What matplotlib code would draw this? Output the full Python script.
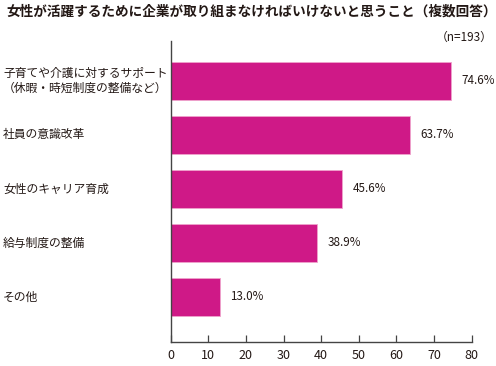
import matplotlib
matplotlib.use("Agg")
import matplotlib.pyplot as plt

plt.rcParams['font.family'] = ['Noto Sans CJK JP', 'DejaVu Sans']

title = "女性が活躍するために企業が取り組まなければいけないと思うこと（複数回答）"
categories = ["子育てや介護に対するサポート\n（休暇・時短制度の整備など）",
              "社員の意識改革",
              "女性のキャリア育成",
              "給与制度の整備",
              "その他"]
values = [74.6, 63.7, 45.6, 38.9, 13.0]
value_labels = ["74.6%", "63.7%", "45.6%", "38.9%", "13.0%"]
xticks = [0, 10, 20, 30, 40, 50, 60, 70, 80]
note = "（n=193）"

text_color = '#231815'
bar_color = '#CF1987'

fig = plt.figure(figsize=(4.96, 3.66), dpi=100)
ax = fig.add_axes([0.344, 0.0664, 0.607, 0.8216])

ypos = list(range(len(categories)))
ax.barh(ypos, values, height=0.70, color=bar_color, edgecolor='#EFA3CC', linewidth=0.6)

ax.set_xlim(0, 80)
ax.set_ylim(4.83, -0.74)
ax.set_xticks(xticks)
ax.set_xticklabels([str(t) for t in xticks], fontsize=9, color=text_color)
ax.set_yticks([])
ax.tick_params(axis='x', direction='in', length=5, width=0.9, color='#444444', pad=5)

for s in ['top', 'right']:
    ax.spines[s].set_visible(False)
for s in ['left', 'bottom']:
    ax.spines[s].set_color('#444444')
    ax.spines[s].set_linewidth(1.0)

for y, v, lab in zip(ypos, values, value_labels):
    ax.annotate(lab, xy=(v, y), xytext=(7.5, 0), textcoords='offset points',
                va='center', ha='left', fontsize=8.4, color=text_color)

for y, cat in zip(ypos, categories):
    yd = ax.transData.transform((0, y))[1]
    yf = fig.transFigure.inverted().transform((0, yd))[1]
    fig.text(3 / 496, yf, cat, ha='left', va='center', fontsize=8.5,
             color=text_color, linespacing=1.25)

fig.text(6 / 496, 1 - 12 / 366, title, ha='left', va='center', fontsize=9.8,
         fontweight='bold', color=text_color)
fig.text(493 / 496, 1 - 37 / 366, note, ha='right', va='center', fontsize=8.5,
         color=text_color)

fig.savefig("out.png", dpi=100)
